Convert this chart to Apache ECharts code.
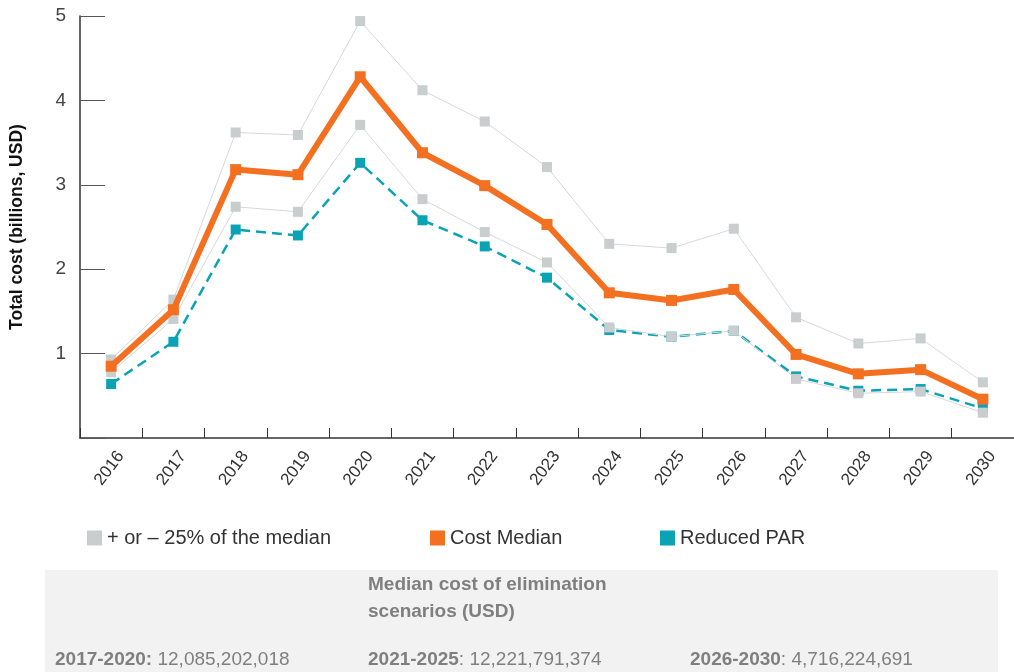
<!DOCTYPE html>
<html>
<head>
<meta charset="utf-8">
<script src="https://cdn.jsdelivr.net/npm/echarts@6/dist/echarts.min.js"></script>
<style>
  html, body { margin: 0; padding: 0; background: #fff; }
  #chart { width: 1014px; height: 672px; }
</style>
</head>
<body>
<div id="chart"></div>
<script>
// data (billions USD)
const years = ['2016', '2017', '2018', '2019', '2020', '2021', '2022', '2023', '2024', '2025', '2026', '2027', '2028', '2029', '2030']
const costMedian = [0.85, 1.52, 3.18, 3.12, 4.28, 3.38, 2.99, 2.53, 1.72, 1.63, 1.76, 0.99, 0.76, 0.81, 0.46]
const upper25 = [0.93, 1.64, 3.62, 3.59, 4.94, 4.12, 3.75, 3.21, 2.30, 2.25, 2.48, 1.43, 1.12, 1.18, 0.66]
const lower25 = [0.78, 1.41, 2.74, 2.68, 3.71, 2.83, 2.44, 2.08, 1.31, 1.20, 1.27, 0.70, 0.53, 0.55, 0.30]
const reducedPar = [0.64, 1.14, 2.47, 2.40, 3.26, 2.58, 2.27, 1.90, 1.28, 1.20, 1.27, 0.73, 0.56, 0.58, 0.35]
const yTicks = [0, 1, 2, 3, 4, 5]

const boxTitle = ['Median cost of elimination', 'scenarios (USD)']
const periods = ['2017-2020:', '2021-2025', '2026-2030']
const periodSep = [' ', ': ', ': ']
const periodValues = ['12,085,202,018', '12,221,791,374', '4,716,224,691']

const GRAY = '#c9cdcd'
const ORANGE = '#f37021'
const TEAL = '#0aa3b5'
const FONT = '"Liberation Sans", Arial, sans-serif'
const LEGEND_NAMES = ['+ or – 25% of the median', 'Cost Median', 'Reduced PAR']
const LEGEND_COLORS = [GRAY, ORANGE, TEAL]
const legendX = [82, 425, 655]
const periodX = [55, 368, 690]

const chart = echarts.init(document.getElementById('chart'))

const option = {
  animation: false,
  textStyle: { fontFamily: FONT },
  grid: { left: 80, top: 16, right: -8, bottom: 234 },
  // one legend per item so each sits where the reference puts it
  legend: LEGEND_NAMES.map((name, i) => ({
    left: legendX[i],
    top: 523,
    itemWidth: 15,
    itemHeight: 15,
    itemGap: 10,
    icon: 'rect',
    selectedMode: false,
    textStyle: { fontSize: 20, color: '#333', fontFamily: FONT },
    data: [{ name: name, itemStyle: { color: LEGEND_COLORS[i] } }]
  })),
  xAxis: {
    type: 'category',
    data: years,
    boundaryGap: true,
    axisLine: { lineStyle: { color: '#333', width: 1.5 } },
    axisTick: { show: true, inside: true, length: 10, lineStyle: { color: '#333', width: 1 } },
    // negative right padding pushes the label end past the category centre
    axisLabel: { rotate: 53, fontSize: 17, color: '#333', margin: 28, padding: [0, -16, 0, 0] }
  },
  yAxis: {
    type: 'value',
    min: yTicks[0],
    max: yTicks[yTicks.length - 1],
    interval: 1,
    name: 'Total cost (billions, USD)',
    nameLocation: 'middle',
    nameGap: 54,
    nameTextStyle: { fontSize: 17.5, fontWeight: 'bold', color: '#111' },
    axisLine: { show: true, lineStyle: { color: '#333', width: 1.5 } },
    axisTick: { show: true, inside: true, length: 25, lineStyle: { color: '#555' } },
    splitLine: { show: false },
    axisLabel: {
      fontSize: 19,
      color: '#444',
      margin: 14,
      formatter: (v) => (v === 0 ? '' : String(v))
    }
  },
  series: [
    {
      name: 'Reduced PAR',
      type: 'line',
      data: reducedPar,
      symbol: 'rect',
      symbolSize: 10,
      lineStyle: { color: TEAL, width: 2.5, type: [10, 6] },
      itemStyle: { color: TEAL },
      z: 2
    },
    {
      name: '+ or – 25% of the median',
      type: 'line',
      data: upper25,
      symbol: 'rect',
      symbolSize: 10,
      lineStyle: { color: '#d6d8d8', width: 1 },
      itemStyle: { color: GRAY },
      z: 3
    },
    {
      name: '+ or – 25% of the median',
      type: 'line',
      data: lower25,
      symbol: 'rect',
      symbolSize: 10,
      lineStyle: { color: '#d6d8d8', width: 1 },
      itemStyle: { color: GRAY },
      z: 3
    },
    {
      name: 'Cost Median',
      type: 'line',
      data: costMedian,
      symbol: 'rect',
      symbolSize: 11,
      lineStyle: { color: ORANGE, width: 6 },
      itemStyle: { color: ORANGE },
      z: 4
    }
  ],
  graphic: [
    {
      type: 'rect',
      left: 45,
      top: 570,
      shape: { width: 953, height: 102 },
      style: { fill: '#f2f2f2' },
      silent: true
    },
    {
      type: 'text',
      left: 368,
      top: 571,
      style: {
        text: boxTitle.join('\n'),
        fill: '#7f7f7f',
        font: 'bold 19px ' + FONT,
        lineHeight: 27
      }
    },
    ...periods.map((p, i) => ({
      type: 'text',
      left: periodX[i],
      top: 650,
      style: {
        text: '{b|' + p + '}{n|' + periodSep[i] + periodValues[i] + '}',
        rich: {
          b: { font: 'bold 19px ' + FONT, fill: '#7f7f7f' },
          n: { font: '19px ' + FONT, fill: '#7f7f7f' }
        }
      }
    }))
  ]
}

chart.setOption(option)
window.addEventListener('resize', () => chart.resize())
</script>
</body>
</html>
